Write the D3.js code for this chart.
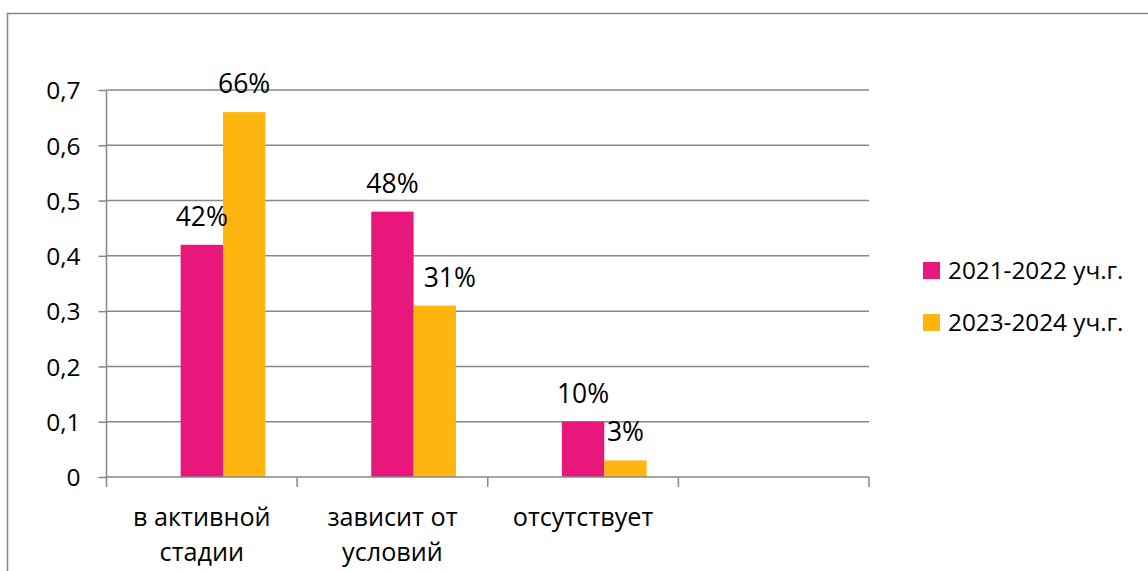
<!DOCTYPE html>
<html>
<head>
<meta charset="utf-8">
<script src="https://cdnjs.cloudflare.com/ajax/libs/d3/7.8.5/d3.min.js"></script>
<style>
  html, body { margin: 0; padding: 0; background: #fff; }
  svg text { font-family: "Open Sans", "Noto Sans", sans-serif; fill: #000; }
</style>
</head>
<body>
<svg id="chart" width="1148" height="571"></svg>
<script>
/* ---------------------------------- Data ---------------------------------- */
const categories = [['в активной', 'стадии'], ['зависит от', 'условий'], ['отсутствует'], []];
const seriesNames = ['2021-2022 уч.г.', '2023-2024 уч.г.'];
const series2122 = [0.42, 0.48, 0.10];
const series2324 = [0.66, 0.31, 0.03];
const yTicks = [0, 0.1, 0.2, 0.3, 0.4, 0.5, 0.6, 0.7];
const colours = ['#E8177B', '#FFB50F'];

/* --------------------------------- Layout --------------------------------- */
const svg = d3.select('#chart');
const plot = { left: 106.5, right: 869, top: 90, bottom: 477 };
const gridColour = '#878787';
// the "31%" label was dragged a little to the right in the original
const labelShift = { 'c1|2023-2024 уч.г.': 15 };

// outer border of the chart area (only top and left edges are visible)
svg.append('rect')
    .attr('x', 7.5).attr('y', 13.5)
    .attr('width', 1160).attr('height', 580)
    .attr('fill', 'none')
    .attr('stroke', gridColour)
    .attr('stroke-width', 1.5);

const catKeys = categories.map((c, i) => 'c' + i);
const x = d3.scaleBand()
    .domain(catKeys)
    .range([plot.left, plot.right])
    .padding(0);

// first slot is an empty series, as in the original spreadsheet chart
const x1 = d3.scaleBand()
    .domain(['empty'].concat(seriesNames))
    .range([0, x.bandwidth()])
    .paddingInner(0)
    .paddingOuter(0.75);

const y = d3.scaleLinear()
    .domain([0, 0.7])
    .range([plot.bottom, plot.top]);

/* -------------------------------- Gridlines ------------------------------- */
svg.append('g')
    .selectAll('line')
    .data(yTicks.filter(t => t > 0))
    .enter()
    .append('line')
    .attr('x1', plot.left).attr('x2', plot.right)
    .attr('y1', d => y(d)).attr('y2', d => y(d))
    .attr('stroke', gridColour)
    .attr('stroke-width', 1.5);

/* ---------------------------------- Bars ---------------------------------- */
const rows = categories.slice(0, series2122.length).map((c, i) => ({
    key: catKeys[i],
    values: [
        { cat: catKeys[i], name: seriesNames[0], value: series2122[i], colour: colours[0] },
        { cat: catKeys[i], name: seriesNames[1], value: series2324[i], colour: colours[1] }
    ]
}));

const groups = svg.append('g')
    .selectAll('g')
    .data(rows)
    .enter()
    .append('g')
    .attr('transform', d => `translate(${x(d.key)},0)`);

groups.selectAll('rect')
    .data(d => d.values)
    .enter()
    .append('rect')
    .attr('x', d => x1(d.name))
    .attr('width', x1.bandwidth())
    .attr('y', d => y(d.value))
    .attr('height', d => y(0) - y(d.value))
    .attr('fill', d => d.colour);

groups.selectAll('text')
    .data(d => d.values)
    .enter()
    .append('text')
    .attr('x', d => x1(d.name) + x1.bandwidth() / 2 + (labelShift[d.cat + '|' + d.name] || 0))
    .attr('y', d => y(d.value) - 19)
    .attr('text-anchor', 'middle')
    .attr('font-size', 26.5)
    .text(d => Math.round(d.value * 100) + '%');

/* ---------------------------------- Axes ---------------------------------- */
const yAxis = svg.append('g')
    .attr('transform', `translate(${plot.left},0)`)
    .call(d3.axisLeft(y)
        .tickValues(yTicks)
        .tickSize(8)
        .tickPadding(18)
        .tickFormat(d => d3.format('.1f')(d).replace('.', ',').replace(/^0,0$/, '0')));
yAxis.select('.domain').remove();
yAxis.selectAll('line').attr('stroke', gridColour).attr('stroke-width', 1.5);
yAxis.selectAll('text').attr('font-size', 24.5).attr('dy', '0.36em');
yAxis.append('line')
    .attr('x1', 0).attr('x2', 0)
    .attr('y1', plot.top).attr('y2', plot.bottom)
    .attr('stroke', gridColour).attr('stroke-width', 1.5);

// x axis: baseline and tick marks at category boundaries
const xAxis = svg.append('g');
xAxis.append('line')
    .attr('x1', plot.left).attr('x2', plot.right)
    .attr('y1', y(0)).attr('y2', y(0))
    .attr('stroke', gridColour).attr('stroke-width', 1.5);
xAxis.selectAll('line.tick')
    .data(catKeys.map(k => x(k)).concat([plot.right]))
    .enter()
    .append('line')
    .attr('class', 'tick')
    .attr('x1', d => d).attr('x2', d => d)
    .attr('y1', y(0)).attr('y2', y(0) + 10)
    .attr('stroke', gridColour).attr('stroke-width', 1.5);

xAxis.selectAll('text')
    .data(categories.map((c, i) => ({ key: catKeys[i], lines: c })))
    .enter()
    .append('text')
    .attr('text-anchor', 'middle')
    .attr('font-size', 25.2)
    .attr('transform', d => `translate(${x(d.key) + x.bandwidth() / 2},${y(0) + 49})`)
    .selectAll('tspan')
    .data(d => d.lines)
    .enter()
    .append('tspan')
    .attr('x', 0)
    .attr('y', (d, i) => i * 35)
    .text(d => d);

/* --------------------------------- Legend --------------------------------- */
const legend = svg.append('g')
    .attr('transform', 'translate(923,262)');

const items = legend.selectAll('g')
    .data(seriesNames)
    .enter()
    .append('g')
    .attr('transform', (d, i) => `translate(0,${i * 52})`);

items.append('rect')
    .attr('width', 17).attr('height', 17)
    .attr('fill', (d, i) => colours[i]);

items.append('text')
    .attr('x', 25)
    .attr('y', 17)
    .attr('font-size', 24.3)
    .text(d => d);
</script>
</body>
</html>
